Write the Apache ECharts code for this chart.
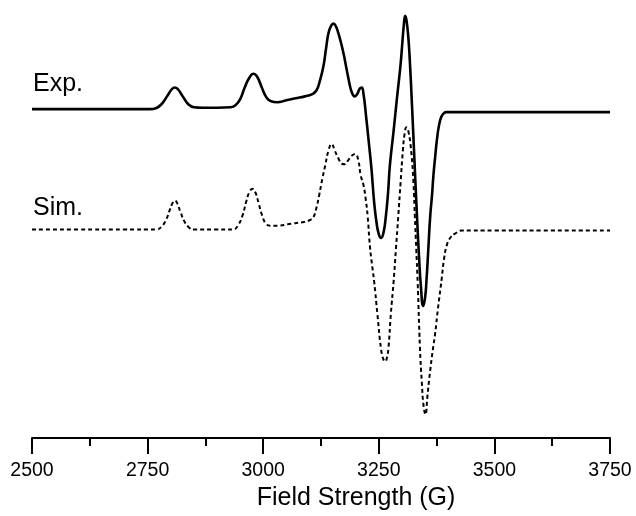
<!DOCTYPE html>
<html>
<head>
<meta charset="utf-8">
<script src="https://cdn.jsdelivr.net/npm/echarts@6/dist/echarts.min.js"></script>
<style>html,body{margin:0;padding:0;background:#fff}#c{width:636px;height:516px}</style>
</head>
<body>
<div id="c"></div>
<script>
// Field axis ticks (G)
var xTicks = [2500, 2750, 3000, 3250, 3500, 3750];
var seriesNames = ['Exp.', 'Sim.'];

// Experimental spectrum: [field (G), signal (arb. units)]
var expData = [
  [2500,0],[2600,0],[2700,0],[2755,0],[2768,1],[2780,5],[2792,13],[2802,20],[2809,22],
  [2816,20],[2826,13],[2838,5],[2850,2],[2870,1.5],[2900,1.5],[2930,2],[2940,4],[2950,10],
  [2960,22],[2970,32],[2979,36],[2987,33],[2997,22],[3007,12],[3017,8],[3030,7],[3050,9],
  [3070,11],[3090,13],[3105,15],[3115,19],[3122,28],[3130,43],[3136,62],[3141,77],[3147,85],
  [3152,87],[3157,84.5],[3162,78],[3168,68],[3174,56],[3179,44],[3184,32],[3189,21],
  [3194,14.5],[3198,13],[3204,16],[3209,21],[3213,22],[3217,15],[3222,-5],[3228,-32],
  [3234,-60],[3240,-95],[3245,-115],[3250,-127],[3255,-131],[3260,-126],[3265,-110],
  [3270,-85],[3274,-57],[3282,-22],[3289,10],[3297,45],[3301,68],[3304,85],[3307,95],
  [3310,90],[3314,72],[3317,50],[3321,12],[3325,-30],[3329,-72],[3333,-113],[3337,-150],
  [3341,-180],[3346,-200],[3350,-192],[3353,-175],[3357,-143],[3361,-110],[3365,-88],
  [3368,-68],[3372,-48],[3376,-30],[3380,-17],[3385,-8],[3390,-4.5],[3396,-3],[3420,-3],
  [3500,-3],[3600,-3],[3750,-3]
];

// Simulated spectrum: [field (G), signal (arb. units)]
var simData = [
  [2500,0],[2600,0],[2700,0],[2769,0],[2780,3],[2790,10],[2798,20],[2804,27],[2809,29.5],
  [2814,27],[2821,18],[2830,8],[2840,2],[2850,0],[2900,0],[2935,0],[2945,4],[2955,14],
  [2963,28],[2970,38],[2977,41.5],[2983,38],[2990,27],[2998,14],[3006,6],[3015,4],[3030,4],
  [3060,6],[3090,8],[3102,10],[3108,12],[3115,22],[3121,35],[3128,52],[3134,65],[3141,80],
  [3148,87],[3155,80],[3163,72],[3170,67],[3176,66.5],[3183,70],[3191,75],[3199,77],
  [3205,72],[3211,55],[3217,45],[3222,30],[3226,13],[3231,-18],[3236,-38],[3240,-53],
  [3247,-86],[3255,-122],[3260,-132],[3264,-134],[3268,-129],[3271,-120],[3276,-86],
  [3282,-53],[3287,-20],[3292,13],[3297,47],[3302,80],[3306,98],[3310,104],[3314,100],
  [3320,80],[3325,47],[3328,13],[3331,-20],[3334,-53],[3339,-120],[3343,-155],[3347,-180],
  [3351,-188],[3355,-170],[3360,-148],[3366,-125],[3372,-105],[3378,-80],[3386,-50],
  [3391,-30],[3397,-16],[3405,-8],[3415,-4],[3430,-1],[3500,-1],[3600,-1],[3750,-1]
];

// vertical offsets used to stack the two traces
var expOffset = 334.5;
var simOffset = 212;

function shift(arr, off) {
  return arr.map(function (p) { return [p[0], p[1] + off]; });
}

var chart = echarts.init(document.getElementById('c'), null, {renderer: 'canvas'});
var FONT = '"Liberation Sans", Arial, sans-serif';
chart.setOption({
  animation: false,
  backgroundColor: '#fff',
  grid: {left: 32, right: 26, top: 0, bottom: 70.5, containLabel: false},
  xAxis: {
    type: 'value',
    min: xTicks[0], max: xTicks[xTicks.length - 1], interval: 250,
    name: 'Field Strength (G)', nameLocation: 'middle', nameGap: 47,
    nameTextStyle: {fontFamily: FONT, fontSize: 25, color: '#000', padding: [0, 0, 0, 70]},
    axisLine: {show: true, onZero: false, lineStyle: {color: '#000', width: 2}},
    axisTick: {show: true, length: 16, lineStyle: {color: '#000', width: 2}},
    minorTick: {show: true, splitNumber: 2, length: 8, lineStyle: {color: '#000', width: 2}},
    splitLine: {show: false},
    minorSplitLine: {show: false},
    axisLabel: {
      fontFamily: FONT, fontSize: 19.5, color: '#000', margin: 23,
      formatter: function (v) { return String(v); }
    }
  },
  yAxis: {
    type: 'value', min: 0, max: 445.5, show: false,
    splitLine: {show: false}
  },
  series: [
    {
      name: seriesNames[0], type: 'line', data: shift(expData, expOffset),
      showSymbol: false, smooth: 0.5,
      lineStyle: {color: '#000', width: 2.6}
    },
    {
      name: seriesNames[1], type: 'line', data: shift(simData, simOffset),
      showSymbol: false, smooth: 0.5,
      lineStyle: {color: '#000', width: 2, type: [4, 3]}
    }
  ],
  graphic: [
    {type: 'text', x: 33, y: 84, style: {text: seriesNames[0], font: '25px ' + FONT, fill: '#000', verticalAlign: 'middle'}},
    {type: 'text', x: 33, y: 208, style: {text: seriesNames[1], font: '25px ' + FONT, fill: '#000', verticalAlign: 'middle'}}
  ]
});
</script>
</body>
</html>
